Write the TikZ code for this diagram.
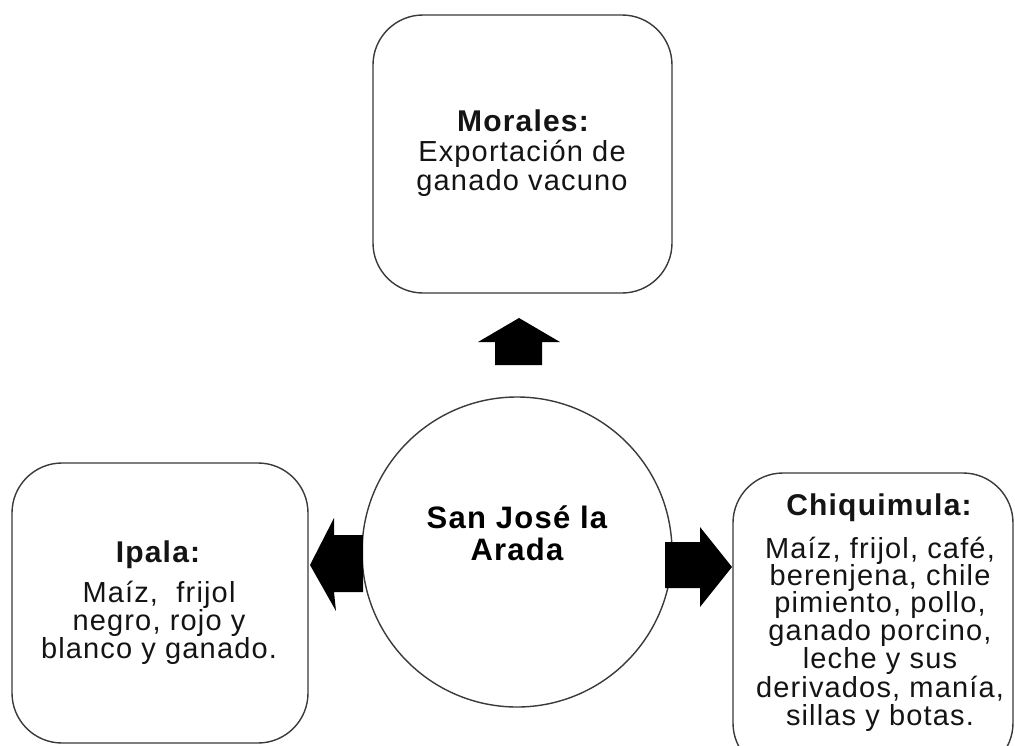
\documentclass[tikz,border=0pt]{standalone}
\usepackage{fontspec}
\setmainfont{Liberation Sans}[LetterSpace=4]
\definecolor{boxgray}{HTML}{3A3A3A}
\definecolor{txt}{HTML}{141414}
\begin{document}
\begin{tikzpicture}[x=1pt,y=-1pt,
  box/.style={draw=boxgray, line width=1.4pt, rounded corners=50pt, rectangle, inner sep=0pt},
  hub/.style={draw=boxgray, line width=1.4pt, circle, inner sep=0pt, minimum size=310pt},
  title/.style={anchor=base, text=txt, font=\fontsize{30}{30}\selectfont\bfseries, inner sep=0pt},
  body/.style={anchor=base, text=txt, font=\fontsize{29}{29}\selectfont, inner sep=0pt},
  hubtext/.style={anchor=base, text=black, font=\fontsize{31}{31}\selectfont\bfseries, inner sep=0pt},
  blockarrow/.style={fill=black, draw=none}]
\useasboundingbox (0,0) rectangle (1015,745);
\clip (0,0) rectangle (1015,745);
\fill[white] (0,0) rectangle (1015,745);

% boxes
\node[box, minimum width=299pt, minimum height=278pt] (morales) at (522.5,154) {};
\node[box, minimum width=296pt, minimum height=280pt] (ipala) at (160,603) {};
\node[box, minimum width=280pt, minimum height=300pt] (chiq) at (873,623) {};
\node[hub] (hub) at (517,552) {};

% hub text
\node[hubtext] (hub1) at (517,528) {San José la};
\node[hubtext] (hub2) at (517,560) {Arada};

% Morales text
\node[title] (mt) at (523,131) {Morales:};
\node[body] (mb1) at (522,161) {Exportación de};
\node[body] (mb2) at (522,190) {ganado vacuno};

% Ipala text
\node[title] (it) at (158,562) {Ipala:};
\node[body] (ib1) at (159,602) {Maíz,\ \ frijol};
\node[body] (ib2) at (159,630) {negro, rojo y};
\node[body] (ib3) at (159,658) {blanco y ganado.};

% Chiquimula text
\node[title] (ct) at (879,515) {Chiquimula:};
\foreach \t/\y [count=\i] in {{Maíz, frijol, café,}/558, {berenjena, chile}/585, {pimiento, pollo,}/612, {ganado porcino,}/640, {leche y sus}/668, {derivados, manía,}/697, {sillas y botas.}/725}
  \node[body] (cb\i) at (880,\y) {\t};

% block arrows
\fill[blockarrow] (519,318) -- (560,342) -- (542,342) -- (542,365) -- (495,365) -- (495,342) -- (478,342) -- cycle;
\fill[blockarrow] (310,565) -- (334,518) -- (334,535) -- (363,535) -- (363,592) -- (334,592) -- (336,611) -- cycle;
\fill[blockarrow] (732,567) -- (700,527) -- (700,542) -- (665,542) -- (665,588) -- (700,588) -- (700,607) -- cycle;
\end{tikzpicture}
\end{document}
